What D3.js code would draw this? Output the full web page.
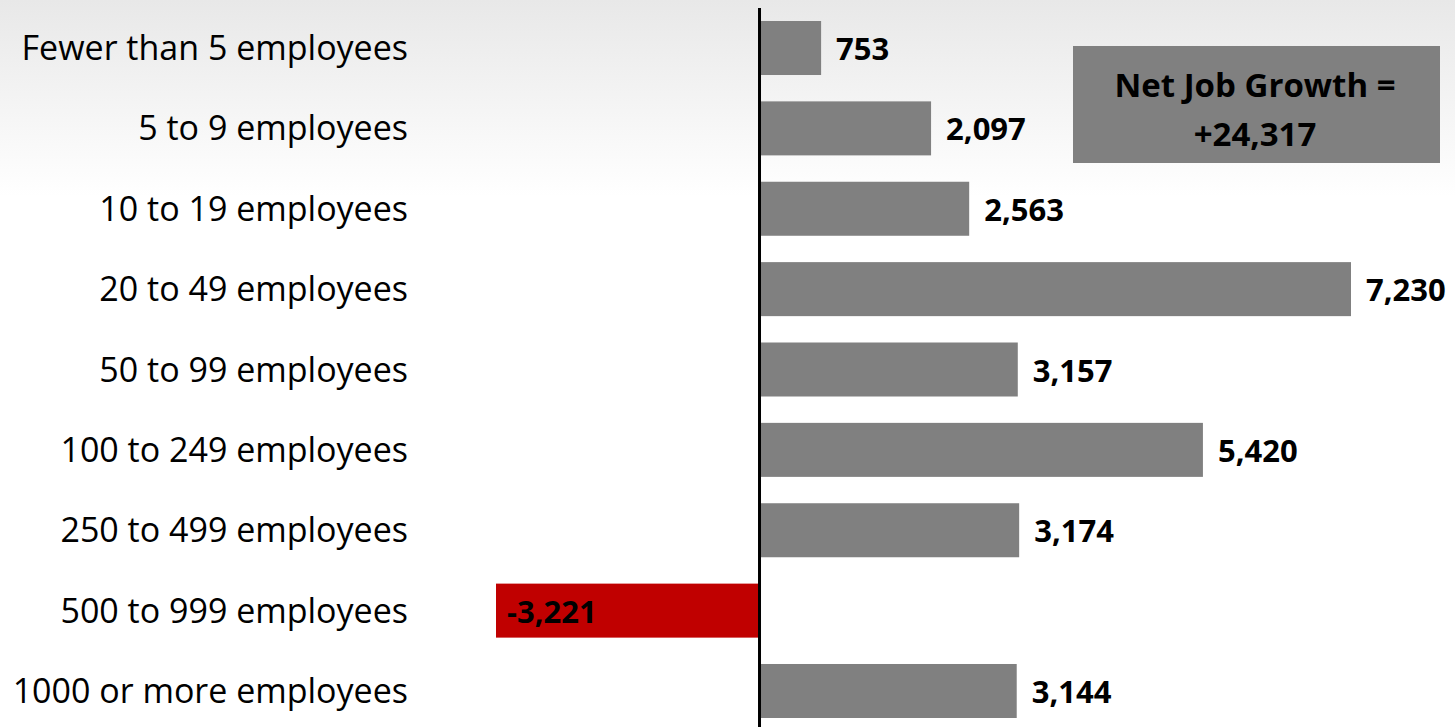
<!DOCTYPE html>
<html>
<head>
<meta charset="utf-8">
<script src="https://cdn.jsdelivr.net/npm/d3@7"></script>
<style>
  html, body { margin: 0; padding: 0; background: #fff; }
  svg { display: block; }
</style>
</head>
<body>
<div id="chart"></div>
<script>
const categories = [
  "Fewer than 5 employees",
  "5 to 9 employees",
  "10 to 19 employees",
  "20 to 49 employees",
  "50 to 99 employees",
  "100 to 249 employees",
  "250 to 499 employees",
  "500 to 999 employees",
  "1000 or more employees"
];
const jobGrowth = [753, 2097, 2563, 7230, 3157, 5420, 3174, -3221, 3144];
const netLabel = ["Net Job Growth =", "+24,317"];

const width = 1455, height = 727;
const font = "'Open Sans', Lato, sans-serif";

const svg = d3.select("#chart").append("svg")
  .attr("width", width)
  .attr("height", height);

// background fade
const grad = svg.append("defs").append("linearGradient")
  .attr("id", "bg")
  .attr("gradientUnits", "userSpaceOnUse")
  .attr("x1", 0).attr("y1", 0).attr("x2", 0).attr("y2", height);
grad.append("stop").attr("offset", 0).attr("stop-color", "#e8e8e8");
grad.append("stop").attr("offset", 0.27).attr("stop-color", "#ffffff");
svg.append("rect")
  .attr("width", width).attr("height", height)
  .attr("fill", "url(#bg)");

const x = d3.scaleLinear()
  .domain([-3221, 7230])
  .range([496, 1351]);

const y = d3.scaleBand()
  .domain(categories)
  .range([21, 718])
  .paddingInner(0.328)
  .paddingOuter(0);

// bars
svg.selectAll("rect.bar")
  .data(jobGrowth)
  .enter()
  .append("rect")
  .attr("class", "bar")
  .attr("x", d => x(Math.min(0, d)))
  .attr("y", (d, i) => y(categories[i]))
  .attr("width", d => Math.abs(x(d) - x(0)))
  .attr("height", y.bandwidth())
  .attr("fill", d => d < 0 ? "#c00000" : "#808080");

// zero line
svg.append("line")
  .attr("x1", x(0)).attr("x2", x(0))
  .attr("y1", 8).attr("y2", height)
  .attr("stroke", "#000")
  .attr("stroke-width", 3);

// category labels
svg.selectAll("text.cat")
  .data(categories)
  .enter()
  .append("text")
  .attr("class", "cat")
  .attr("x", 408)
  .attr("y", d => y(d) + y.bandwidth() / 2 + 12)
  .attr("text-anchor", "end")
  .attr("font-family", font)
  .attr("font-size", 34)
  .attr("fill", "#000")
  .text(d => d);

// value labels
const fmt = d3.format(",");
svg.selectAll("text.val")
  .data(jobGrowth)
  .enter()
  .append("text")
  .attr("class", "val")
  .attr("x", d => d < 0 ? x(d) + 11 : x(d) + 15)
  .attr("y", (d, i) => y(categories[i]) + y.bandwidth() / 2 + 12)
  .attr("font-family", font)
  .attr("font-weight", "bold")
  .attr("font-size", 31)
  .attr("fill", "#000")
  .text(d => d < 0 ? "-" + fmt(-d) : fmt(d));

// net growth box
svg.append("rect")
  .attr("x", 1073).attr("y", 46)
  .attr("width", 367).attr("height", 117)
  .attr("fill", "#808080");

svg.selectAll("text.net")
  .data(netLabel)
  .enter()
  .append("text")
  .attr("class", "net")
  .attr("x", 1255)
  .attr("y", (d, i) => 97 + i * 49)
  .attr("text-anchor", "middle")
  .attr("font-family", font)
  .attr("font-weight", "bold")
  .attr("font-size", 33)
  .attr("fill", "#000")
  .text(d => d);
</script>
</body>
</html>
